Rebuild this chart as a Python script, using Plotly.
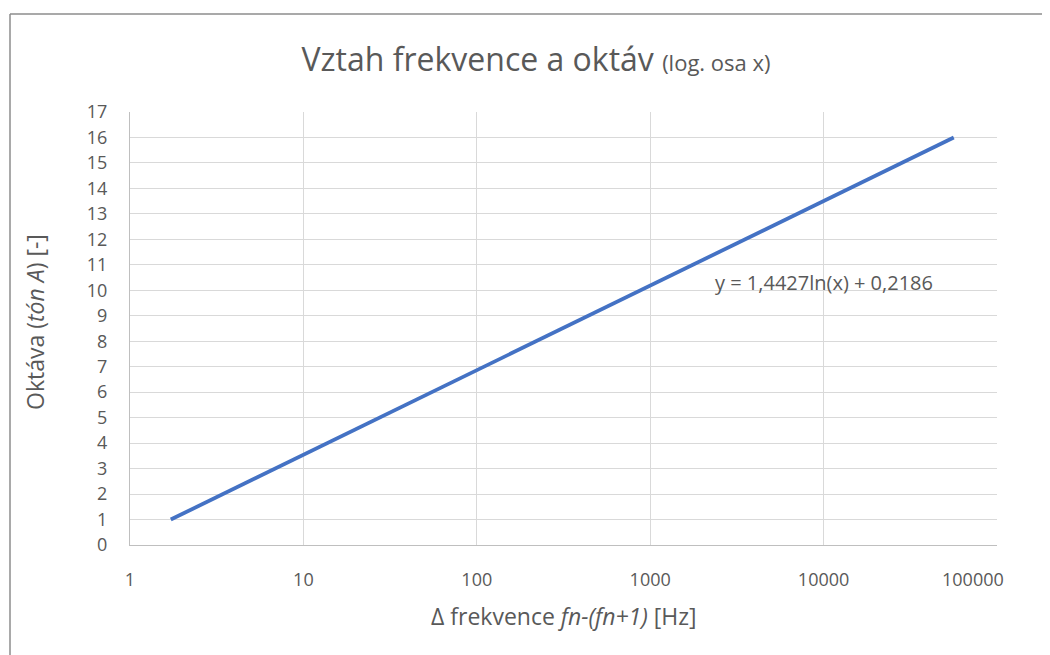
import plotly.graph_objects as go

# delta frequency of tone A per octave [Hz] and octave number
delta_f = [1.71875, 3.4375, 6.875, 13.75, 27.5, 55, 110, 220, 440, 880,
           1760, 3520, 7040, 14080, 28160, 56320]
oktava = [1, 2, 3, 4, 5, 6, 7, 8, 9, 10, 11, 12, 13, 14, 15, 16]

x_ticks = [1, 10, 100, 1000, 10000, 100000]
x_ticktext = ["1", "10", "100", "1000", "10000", "100000"]
y_ticks = list(range(0, 18))

trend_text = "y = 1,4427ln(x) + 0,2186"

# page body has an 8px margin, so the figure is a bit smaller than the window
W, H = 1042, 647
L, R, T, B = 122, 53, 104, 110
pw, ph = W - L - R, H - T - B

txt = "#595959"
font = "Open Sans"

fig = go.Figure()
fig.add_trace(go.Scatter(x=delta_f, y=oktava, mode="lines",
                         line=dict(color="#4472C4", width=3.8),
                         showlegend=False, hoverinfo="x+y"))

fig.add_annotation(x=3.362, y=10.29, xref="x", yref="y", text=trend_text,
                   showarrow=False, xanchor="left", yanchor="middle",
                   font=dict(family=font, size=20, color=txt))

# last x tick label is pulled inside the chart, like in Excel
fig.add_annotation(x=1, y=(ph + T - 571) / ph, xref="paper", yref="paper",
                   text=x_ticktext[-1], showarrow=False, xanchor="center",
                   yanchor="middle", xshift=-24,
                   font=dict(family=font, size=18, color=txt))

# axis titles
fig.add_annotation(x=0.5, y=(ph + T - 608) / ph, xref="paper", yref="paper",
                   text="Δ frekvence <i>fn-(fn+1)</i> [Hz]", showarrow=False,
                   xanchor="center", yanchor="middle",
                   font=dict(family=font, size=23, color=txt))
fig.add_annotation(x=(27 - L) / pw, y=(ph + T - 314) / ph, xref="paper", yref="paper",
                   text="Oktáva (<i>tón A</i>) [-]", showarrow=False, textangle=-90,
                   xanchor="center", yanchor="middle",
                   font=dict(family=font, size=23, color=txt))

# outer chart border (top and left edges visible)
bx0 = (2 - L) / pw
bx1 = (W + 5 - L) / pw
by0 = (ph + T - (H + 5)) / ph
by1 = (ph + T - 6) / ph
fig.add_shape(type="line", xref="paper", yref="paper", x0=bx0, x1=bx1, y0=by1, y1=by1,
              line=dict(color="#8c8c8c", width=1.5))
fig.add_shape(type="line", xref="paper", yref="paper", x0=bx0, x1=bx0, y0=by0, y1=by1,
              line=dict(color="#8c8c8c", width=1.5))

fig.update_layout(
    width=W, height=H,
    margin=dict(l=L, r=R, t=T, b=B),
    paper_bgcolor="white", plot_bgcolor="white",
    font=dict(family=font, color=txt, size=18),
    title=dict(
        text="Vztah frekvence a oktáv <span style='font-size:22px'>(log. osa x)</span>",
        x=528 / W, xanchor="center", y=1 - 52 / H, yanchor="middle",
        font=dict(family=font, size=32, color=txt)),
    xaxis=dict(type="log", range=[0, 5], tickvals=x_ticks,
               ticktext=x_ticktext[:-1] + [""],
               showgrid=True, gridcolor="#d9d9d9", gridwidth=1.3,
               showline=True, linecolor="#bfbfbf", linewidth=1.3,
               zeroline=False, ticks="", ticklabelstandoff=18,
               tickfont=dict(size=18, color=txt)),
    yaxis=dict(range=[0, 17], tickvals=y_ticks,
               showgrid=True, gridcolor="#d9d9d9", gridwidth=1.3,
               showline=True, linecolor="#bfbfbf", linewidth=1.3,
               zeroline=False, ticks="", ticklabelstandoff=18,
               tickfont=dict(size=18, color=txt)),
)

fig.write_html("out.html")
